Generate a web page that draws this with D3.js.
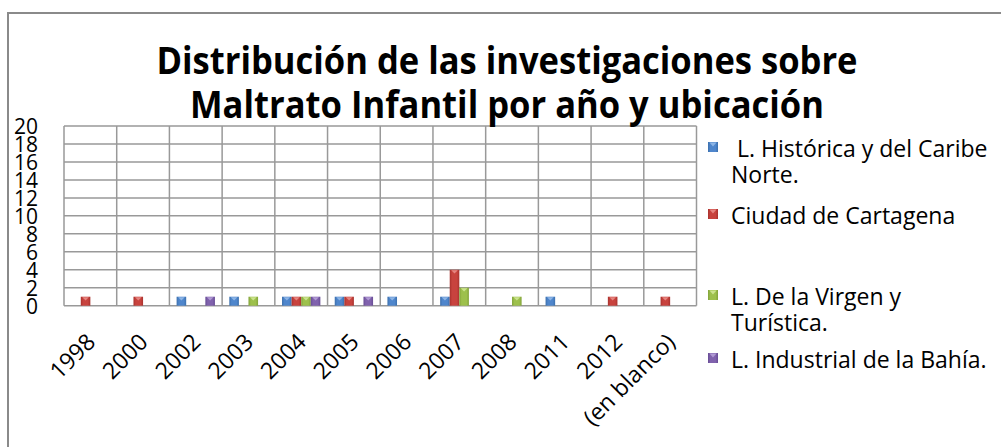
<!DOCTYPE html>
<html>
<head>
<meta charset="utf-8">
<script src="https://cdn.jsdelivr.net/npm/d3@7"></script>
<style>
  body { margin: 0; background: #fff; }
  svg text { font-family: 'Open Sans', 'DejaVu Sans', sans-serif; fill: #000; }
</style>
</head>
<body>
<div id="chart"></div>
<script>
// data
const years = ['1998', '2000', '2002', '2003', '2004', '2005', '2006', '2007', '2008', '2011', '2012', '(en blanco)']
const historica  = [0, 0, 1, 1, 1, 1, 1, 1, 0, 1, 0, 0]
const cartagena  = [1, 1, 0, 0, 1, 1, 0, 4, 0, 0, 1, 1]
const virgen     = [0, 0, 0, 1, 1, 0, 0, 2, 1, 0, 0, 0]
const industrial = [0, 0, 1, 0, 1, 1, 0, 0, 0, 0, 0, 0]
const seriesKeys = ['historica', 'cartagena', 'virgen', 'industrial']
const legendLines = [
    [' L. Histórica y del Caribe', 'Norte.'],
    ['Ciudad de Cartagena'],
    ['L. De la Virgen y', 'Turística.'],
    ['L. Industrial de la Bahía.']
]
const yTicks = d3.range(0, 21, 2)
const titleLines = ['Distribución de las investigaciones sobre', 'Maltrato Infantil por año y ubicación']

const values = { historica, cartagena, virgen, industrial }
const colors = {
    historica:  { dark: '#3c70ad', mid: '#4f86cc', light: '#8db5e6' },
    cartagena:  { dark: '#a8322e', mid: '#c8433e', light: '#e68580' },
    virgen:     { dark: '#82a33a', mid: '#9dc04c', light: '#cbe38e' },
    industrial: { dark: '#684d95', mid: '#8062ad', light: '#b09ad4' }
}

const width = 1001, height = 447
const plot = { left: 64, right: 696.5, top: 126, bottom: 305.7 }

const svg = d3.select('#chart').append('svg')
    .attr('width', width)
    .attr('height', height)

// gradients for the bevelled columns
const defs = svg.append('defs')
seriesKeys.forEach(k => {
    const g = defs.append('linearGradient')
        .attr('id', 'grad-' + k)
        .attr('x1', '0%').attr('x2', '100%')
        .attr('y1', '0%').attr('y2', '0%')
    g.append('stop').attr('offset', '0%').attr('stop-color', colors[k].dark)
    g.append('stop').attr('offset', '25%').attr('stop-color', colors[k].mid)
    g.append('stop').attr('offset', '75%').attr('stop-color', colors[k].mid)
    g.append('stop').attr('offset', '100%').attr('stop-color', colors[k].dark)
})

// chart border (cropped on the right and bottom)
svg.append('rect')
    .attr('x', 8).attr('y', 13)
    .attr('width', 1010).attr('height', 450)
    .attr('fill', 'none')
    .attr('stroke', '#8a8a8a')
    .attr('stroke-width', 2)

const x = d3.scaleBand()
    .domain(years)
    .range([plot.left, plot.right])
    .paddingInner(0).paddingOuter(0)

const x1 = d3.scaleBand()
    .domain(seriesKeys)
    .range([0, x.bandwidth()])
    .paddingInner(0).paddingOuter(0.75)

const y = d3.scaleLinear()
    .domain([0, 20])
    .range([plot.bottom, plot.top])

// grid
const grid = svg.append('g').attr('stroke', '#999').attr('stroke-width', 1.5)
grid.selectAll('.hline')
    .data(yTicks)
    .join('line')
    .attr('x1', plot.left).attr('x2', plot.right)
    .attr('y1', d => y(d)).attr('y2', d => y(d))
grid.selectAll('.vline')
    .data(years.concat(['end']))
    .join('line')
    .attr('x1', (d, i) => i < years.length ? x(d) : plot.right)
    .attr('x2', (d, i) => i < years.length ? x(d) : plot.right)
    .attr('y1', plot.top).attr('y2', plot.bottom)

// y labels
svg.append('g').selectAll('text')
    .data(yTicks)
    .join('text')
    .attr('x', 38)
    .attr('y', d => y(d))
    .attr('text-anchor', 'end')
    .attr('dominant-baseline', 'central')
    .style('font-size', '21px')
    .text(d => d)

// x labels
svg.append('g').selectAll('text')
    .data(years)
    .join('text')
    .attr('transform', d => `translate(${x(d) + x.bandwidth() / 2}, 337) rotate(-45)`)
    .attr('text-anchor', 'end')
    .attr('dominant-baseline', 'central')
    .style('font-size', '23px')
    .text(d => d)

// columns
const rows = years.map((yr, i) => ({ yr, i }))
seriesKeys.forEach(k => {
    const g = svg.append('g').attr('class', 'series-' + k)
    const data = rows.filter(r => values[k][r.i] > 0)
    const w = x1.bandwidth()
    g.selectAll('rect')
        .data(data)
        .join('rect')
        .attr('x', r => x(r.yr) + x1(k))
        .attr('y', r => y(values[k][r.i]))
        .attr('width', w)
        .attr('height', r => y(0) - y(values[k][r.i]))
        .attr('fill', `url(#grad-${k})`)
    // bevel cap
    g.selectAll('polygon')
        .data(data)
        .join('polygon')
        .attr('points', r => {
            const bx = x(r.yr) + x1(k), by = y(values[k][r.i])
            return `${bx + 1.5},${by + 0.5} ${bx + w - 1.5},${by + 0.5} ${bx + w / 2},${by + w * 0.4}`
        })
        .attr('fill', colors[k].light)
})

// title
svg.append('g').selectAll('text')
    .data(titleLines)
    .join('text')
    .attr('x', 507)
    .attr('y', (d, i) => 74 + i * 44)
    .attr('text-anchor', 'middle')
    .attr('textLength', (d, i) => i === 0 ? 701 : 634)
    .attr('lengthAdjust', 'spacingAndGlyphs')
    .style('font-size', '38px')
    .style('font-weight', 'bold')
    .text(d => d)

// legend
const legendBase = [157, 224, 305, 368]
const legend = svg.append('g')
legendLines.forEach((lines, i) => {
    const k = seriesKeys[i]
    const my = legendBase[i] - 15
    legend.append('rect')
        .attr('x', 708).attr('y', my)
        .attr('width', 10).attr('height', 10)
        .attr('fill', `url(#grad-${k})`)
    legend.append('polygon')
        .attr('points', `709.5,${my + 0.5} 716.5,${my + 0.5} 713,${my + 4.5}`)
        .attr('fill', colors[k].light)
    lines.forEach((line, j) => {
        legend.append('text')
            .attr('x', 731)
            .attr('y', legendBase[i] + j * 26)
            .style('font-size', '23px')
            .attr('xml:space', 'preserve')
            .text(line)
    })
})
</script>
</body>
</html>
